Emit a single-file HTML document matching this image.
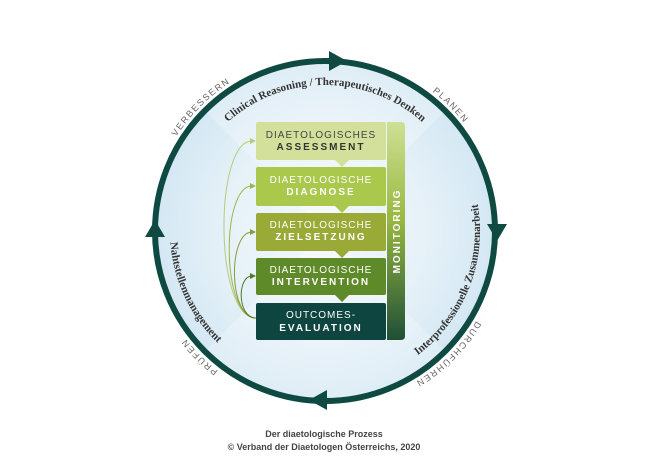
<!DOCTYPE html>
<html><head><meta charset="utf-8"><style>
html,body{margin:0;padding:0;background:#fff;}
svg{display:block;}
</style></head><body>
<svg width="651" height="461" viewBox="0 0 651 461" xmlns="http://www.w3.org/2000/svg">
<defs>
<radialGradient id="disc" cx="50%" cy="50%" r="50%">
<stop offset="0" stop-color="#f4f9fc"/>
<stop offset="0.6" stop-color="#e6f1f8"/>
<stop offset="1" stop-color="#d4e8f3"/>
</radialGradient>
<linearGradient id="mon" x1="0" y1="0" x2="0" y2="1">
<stop offset="0" stop-color="#cfe094"/>
<stop offset="0.45" stop-color="#98b840"/>
<stop offset="1" stop-color="#1f4f36"/>
</linearGradient>
<path id="cw176" d="M149,231 A176,176 0 1 1 501,231 A176,176 0 1 1 149,231"/>
<path id="cw146" d="M179,231 A146,146 0 1 1 471,231 A146,146 0 1 1 179,231"/>
<path id="ccw155" d="M325,386 A155,155 0 1 0 325,76 A155,155 0 1 0 325,386"/>
</defs>
<circle cx="325" cy="231" r="167" fill="url(#disc)"/>
<path d="M325,231 L207,113 A167,167 0 0 1 443,113 Z" fill="#ffffff" opacity="0.25"/>
<path d="M325,231 L443,349 A167,167 0 0 1 207,349 Z" fill="#ffffff" opacity="0.25"/>
<circle cx="325" cy="231" r="170" fill="none" stroke="#0f4a42" stroke-width="6"/>
<polygon points="329,51 347,61 329,71" fill="#0f4a42"/>
<polygon points="487,224 507,224 497,241" fill="#0f4a42"/>
<polygon points="327,390 309,400 327,410" fill="#0f4a42"/>
<polygon points="145,237 155,220 165,237" fill="#0f4a42"/>

<g font-family="Liberation Sans, sans-serif" font-size="9" fill="#666" letter-spacing="1.6">
<text><textPath href="#cw176" startOffset="12.5%" text-anchor="middle">VERBESSERN</textPath></text>
<text><textPath href="#cw176" startOffset="37.5%" text-anchor="middle">PLANEN</textPath></text>
<text><textPath href="#cw176" startOffset="62.5%" text-anchor="middle">DURCHFÜHREN</textPath></text>
<text><textPath href="#cw176" startOffset="87.5%" text-anchor="middle">PRÜFEN</textPath></text>
</g>
<g font-family="Liberation Serif, serif" font-weight="bold" fill="#333">
<text font-size="11"><textPath href="#cw146" startOffset="25%" text-anchor="middle">Clinical Reasoning / Therapeutisches Denken</textPath></text>
<text font-size="11"><textPath href="#ccw155" startOffset="82%" text-anchor="middle">Nahtstellenmanagement</textPath></text>
<text font-size="11"><textPath href="#ccw155" startOffset="19%" text-anchor="middle">Interprofessionelle Zusammenarbeit</textPath></text>
</g>

<g fill="none" stroke-width="1">
<path d="M256,318 C214,318 214,141 252,141" stroke="#b5cc78"/>
<path d="M256,318 C221,318 221,186 252,186" stroke="#98b84a"/>
<path d="M256,318 C228,318 228,232 252,232" stroke="#8a9c38"/>
<path d="M256,318 C237,318 237,276 252,276" stroke="#4f7a28"/>
</g>
<polygon points="250,138 256,141 250,144" fill="#b5cc78"/>
<polygon points="250,183 256,186 250,189" fill="#98b84a"/>
<polygon points="250,229 256,232 250,235" fill="#8a9c38"/>
<polygon points="250,273 256,276 250,279" fill="#4f7a28"/>

<path d="M387,122 H401 Q405,122 405,126 V336 Q405,340 401,340 H387 Z" fill="url(#mon)"/>
<text x="0" y="0" transform="translate(400,231) rotate(-90)" font-family="Liberation Sans, sans-serif" font-weight="bold" font-size="10" fill="#fff" letter-spacing="2" text-anchor="middle">MONITORING</text>

<g font-family="Liberation Sans, sans-serif" font-size="10" text-anchor="middle">
<rect x="256" y="122" width="130" height="38" rx="2" fill="#d3e09c"/>
<polygon points="335,160 349,160 342,167" fill="#d3e09c"/>
<text x="321" y="138" fill="#444" letter-spacing="1">DIAETOLOGISCHES</text>
<text x="321" y="150" fill="#333" font-weight="bold" letter-spacing="2">ASSESSMENT</text>

<rect x="256" y="167" width="130" height="39" rx="2" fill="#a9c84c"/>
<polygon points="335,206 349,206 342,213" fill="#a9c84c"/>
<text x="321" y="183" fill="#fff" letter-spacing="1">DIAETOLOGISCHE</text>
<text x="321" y="195" fill="#fff" font-weight="bold" letter-spacing="2">DIAGNOSE</text>

<rect x="256" y="213" width="130" height="38" rx="2" fill="#9aaa36"/>
<polygon points="335,251 349,251 342,258" fill="#9aaa36"/>
<text x="321" y="228" fill="#fff" letter-spacing="1">DIAETOLOGISCHE</text>
<text x="321" y="240" fill="#fff" font-weight="bold" letter-spacing="2">ZIELSETZUNG</text>

<rect x="256" y="258" width="130" height="37" rx="2" fill="#5f8a2a"/>
<polygon points="335,295 349,295 342,302" fill="#5f8a2a"/>
<text x="321" y="273" fill="#fff" letter-spacing="1">DIAETOLOGISCHE</text>
<text x="321" y="285" fill="#fff" font-weight="bold" letter-spacing="2">INTERVENTION</text>

<rect x="256" y="303" width="130" height="37" rx="2" fill="#0e4540"/>
<text x="321" y="318" fill="#fff" letter-spacing="1">OUTCOMES-</text>
<text x="321" y="331" fill="#fff" font-weight="bold" letter-spacing="2">EVALUATION</text>
</g>

<g font-family="Liberation Sans, sans-serif" font-weight="bold" font-size="9" fill="#444" text-anchor="middle">
<text x="324" y="437">Der diaetologische Prozess</text>
<text x="324" y="450">© Verband der Diaetologen Österreichs, 2020</text>
</g>
</svg>
</body></html>
